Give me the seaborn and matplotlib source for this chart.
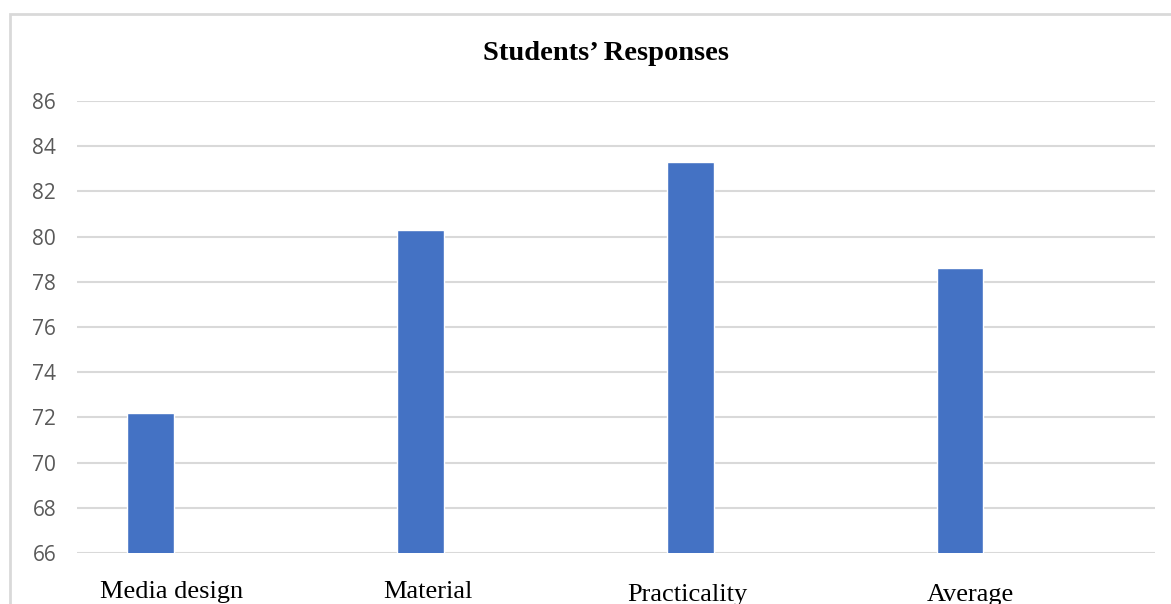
import matplotlib
matplotlib.use("Agg")
import matplotlib.pyplot as plt
import matplotlib.transforms as mtransforms
import seaborn as sns
import pandas as pd
from matplotlib.patches import Rectangle

# data
categories = ["Media design", "Material", "Practicality", "Average"]
scores = [72.2, 80.3, 83.3, 78.6]
yticks = [66, 68, 70, 72, 74, 76, 78, 80, 82, 84, 86]

df = pd.DataFrame({"category": categories, "score": scores})

sns.set_style("white")
fig = plt.figure(figsize=(11.71, 6.04), dpi=100)
ax = fig.add_axes([77 / 1171, 1 - 553 / 604, (1155 - 77) / 1171, (553 - 101) / 604])

sns.barplot(data=df, x="category", y="score", color="#4472C4", width=0.174,
            saturation=1, ax=ax, zorder=3)

ax.set_ylim(66, 86)
ax.set_yticks(yticks)
ax.set_xlim(-0.274, 3.723)
ax.yaxis.grid(True, color="#d9d9d9", linewidth=1.5, zorder=0)
ax.xaxis.grid(False)
for s in ax.spines.values():
    s.set_visible(False)

ax.set_xlabel("")
ax.set_ylabel("")
ax.tick_params(axis="y", length=0, pad=15, labelsize=15, labelcolor="#595959")
for lab in ax.get_yticklabels():
    lab.set_family("Open Sans")
ax.tick_params(axis="x", length=0, pad=20)
ax.set_xticklabels(categories, family="Liberation Serif", fontsize=19, color="black")

# the category labels in the original sit a little off the bar centres
shifts = [(21, 0), (7, 0), (-3, -3), (10, -3)]
for lab, (dx, dy) in zip(ax.get_xticklabels(), shifts):
    lab.set_transform(lab.get_transform() +
                      mtransforms.ScaledTranslation(dx / 100, dy / 100, fig.dpi_scale_trans))

fig.text(606 / 1171, 1 - 53 / 604, "Students\u2019 Responses", ha="center", va="center",
         family="Liberation Serif", fontweight="bold", fontsize=20.5, color="black")

# light outer frame of the chart area
fig.patches.append(Rectangle((10 / 1171, -0.1), 1.2, 1 - 14 / 604 + 0.1,
                             transform=fig.transFigure, fill=False,
                             edgecolor="#d9d9d9", linewidth=2))

fig.savefig("out.png", dpi=100)
